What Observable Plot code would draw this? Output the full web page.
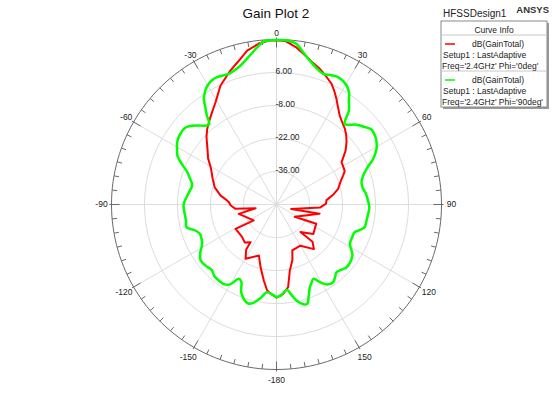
<!DOCTYPE html>
<html><head><meta charset="utf-8">
<script src="https://cdn.jsdelivr.net/npm/d3@7"></script>
<script src="https://cdn.jsdelivr.net/npm/@observablehq/plot@0.6"></script>
<style>body{margin:0;background:#fff}#chart{position:relative;width:554px;height:393px}</style>
</head><body><div id="chart"></div>
<script>
// ---- data ----
const angleLabels = [0, 30, 60, 90, 120, 150, -180, -150, -120, -90, -60, -30];
const ringValues = [6, -8, -22, -36];
const dbMin = -50, dbMax = 20;

const redTheta = [-180,-177,-173.8,-170.5,-165.7,-161,-150.3,-146,-145.4,-140,-133.6,-127,-120.7,-125,-104,-100,-96,-91,-87.2,-85,-81,-74.5,-68,-61,-56,-51,-46,-42.5,-39.4,-35,-30.8,-25.2,-19,-15,-10.8,-6,-2.5,0,3,7,10,14,17.7,21,24.5,27,29.6,32,35.4,39,42,45,48.3,52,55,57,61,64,66.5,70,75.7,80,85,89,94,107,102,124,115.8,128.6,139,136,140,150,161,164,168.6,172,175.7,180];
const redDb = [-10.5,-11.8,-13.3,-17.3,-22.6,-27.1,-23.5,-27,-30.6,-29,-29.9,-30,-29.8,-38.2,-33.5,-41,-32.5,-30.5,-29.8,-28.8,-26,-22.8,-20.8,-18.2,-15,-12.3,-8.7,-6.5,-4.8,-2.3,0.5,5.8,10.1,12.8,16.5,18.8,19.6,19.7,19.5,17.3,15,12.3,10.4,8.4,6.3,4,1.5,-0.9,-3.7,-5.5,-6.7,-8.2,-10.2,-12.8,-15.5,-17.1,-17.5,-17.8,-19.2,-21,-23,-25.5,-28.7,-29,-31.5,-43.5,-31.3,-40.7,-31.3,-30,-34.5,-28,-25.3,-29.8,-29.4,-25.5,-21.4,-14.6,-12,-10.5];

const greenTheta = [-180,-177,-174,-170,-167,-164,-161,-158,-155.5,-153,-150,-147,-143,-139,-135.5,-131,-126.5,-122,-119,-116.5,-111,-108,-104,-100,-95,-90,-85,-80,-77,-73,-70,-67,-64,-61,-58,-54,-50,-47,-44.5,-42,-40,-38,-36,-34.5,-32,-30,-27,-25,-22,-20,-17,-14.5,-11,-7,-4.5,0,4.6,7,10,13,16,19.7,23,26,30.5,33,35,37.5,40.2,42,45,48.5,51.5,55.8,58.1,61,64.7,68,71.5,75.3,79,83,88.6,92,95.8,100,104.4,107,109.5,114,118.2,121,123.9,128,131.8,135,138.4,141,143.9,147,150,153.7,156,158,160.5,162.8,165,168.2,170.5,172.9,175,177,180];
const greenDb = [-10.7,-11.8,-12.6,-9.5,-7.3,-6.3,-7.5,-10,-14,-14.6,-11,-9.6,-9.5,-9.8,-10.9,-10.3,-10,-11.9,-13.8,-14.7,-15.2,-14,-10.6,-11,-10.8,-10.6,-11.8,-13,-13.3,-11.5,-9.7,-6.5,-3.3,-1.8,-0.3,0.6,0.6,-1,-3,-5,-5.6,-2,1.5,4.4,7,8.4,9.5,9.6,9.2,9,9.8,10.9,13.5,17.2,19.3,19.8,19.6,18.7,15.5,12.7,10.5,8.9,9.6,10,8.6,6.5,3.5,0.5,-5.2,-4.5,-2.1,-0.3,1.3,0.8,0,-1.5,-4.6,-8.5,-11.2,-12.7,-12.8,-11.8,-11,-10.6,-10.9,-11.2,-11.4,-13,-14.8,-15,-14.7,-13,-11.2,-10.3,-10.1,-10.9,-11.6,-10.5,-9.2,-9.6,-11.5,-14.8,-13.5,-12.2,-9,-5.9,-6.2,-8.4,-11,-13.5,-12.8,-11.4,-10.7];

const titleText = "Gain Plot 2";
const designText = "HFSSDesign1";
const brandText = "ANSYS";
const legendTitle = "Curve Info";
const seriesNames = ["dB(GainTotal)", "dB(GainTotal)"];
const seriesSetup = ["Setup1 : LastAdaptive", "Setup1 : LastAdaptive"];
const seriesFreq = ["Freq='2.4GHz' Phi='0deg'", "Freq='2.4GHz' Phi='90deg'"];
const seriesColors = ["#ff0000", "#00ff00"];

// ---- helpers ----
const R = 165; // outer radius px
const rad = d => d * Math.PI / 180;
const rNorm = db => Math.max(0, (db - dbMin) / (dbMax - dbMin));
const pt = (t, rr) => ({x: rr * Math.sin(rad(t)), y: rr * Math.cos(rad(t))});

const redPts = redTheta.map((t, i) => pt(t, rNorm(redDb[i])));
const greenPts = greenTheta.map((t, i) => pt(t, rNorm(greenDb[i])));

const circleAngles = d3.range(0, 361, 2);
const ringPts = ringValues.flatMap(v => circleAngles.map(a => ({...pt(a, rNorm(v)), ring: v})));
const outerPts = circleAngles.map(a => pt(a, 1));
const spokes = d3.range(0, 360, 30);
const tickAngles = d3.range(0, 360, 5);
const ticks = tickAngles.map(a => {
  const major = a % 30 === 0;
  const r1 = major ? 157 / R : 160 / R, r2 = major ? 167 / R : 1;
  const p1 = pt(a, r1), p2 = pt(a, r2);
  return {x1: p1.x, y1: p1.y, x2: p2.x, y2: p2.y};
});
const labelPts = angleLabels.map(a => {
  const s = Math.abs(Math.sin(rad(a))), c = Math.cos(rad(a));
  const rp = 171 + 5 * (1 - c) / 2 + 1.5 * s;
  return {...pt(a, rp / R), text: String(a)};
});

const svg = Plot.plot({
  width: 554, height: 393, margin: 0,
  style: {fontFamily: "Liberation Sans, Arial, sans-serif", fontSize: "8.5px", background: "white", overflow: "visible"},
  x: {domain: [-1, 1], range: [276 - R, 276 + R], axis: null},
  y: {domain: [-1, 1], range: [204 + R, 204 - R], axis: null},
  marks: [
    Plot.line(ringPts, {x: "x", y: "y", z: "ring", stroke: "#dcdcdc", strokeWidth: 1}),
    Plot.link(spokes, {x1: d => 0, y1: d => 0, x2: d => Math.sin(rad(d)), y2: d => Math.cos(rad(d)), stroke: "#dcdcdc", strokeWidth: 1}),
    Plot.line(outerPts, {x: "x", y: "y", stroke: "#6a6a6a", strokeWidth: 1}),
    Plot.link(ticks, {x1: "x1", y1: "y1", x2: "x2", y2: "y2", stroke: "#6a6a6a", strokeWidth: 1}),
    Plot.text(labelPts, {x: "x", y: "y", text: "text", fill: "#222", fontSize: 8.5}),
    Plot.text(ringValues, {x: d => 0, y: d => rNorm(d), text: d => d.toFixed(2), textAnchor: "start", lineAnchor: "bottom", dx: -1, dy: 1.5, fill: "#222", fontSize: 8.5}),
    Plot.line(redPts, {x: "x", y: "y", stroke: seriesColors[0], strokeWidth: 2}),
    Plot.line(greenPts, {x: "x", y: "y", stroke: seriesColors[1], strokeWidth: 2.5, curve: "catmull-rom"})
  ]
});
document.getElementById("chart").appendChild(svg);

// ---- title & legend overlay ----
const g = d3.select(svg).append("g").attr("font-family", "Liberation Sans, Arial, sans-serif").attr("text-anchor", "start");
const txt = (x, y, s, size, anchor = "start") => g.append("text").attr("x", x).attr("y", y).attr("text-anchor", anchor).attr("font-size", size).attr("fill", "#222").text(s);
txt(276, 18, titleText, 13.5, "middle").attr("fill", "#111");
txt(443, 17, designText, 10);
txt(549, 13, brandText, 9.5, "end").attr("font-weight", "bold").attr("fill", "#333");

const lx = 441, ly = 21, lw = 106, lh = 86;
g.append("rect").attr("x", lx + 2).attr("y", ly + 2).attr("width", lw).attr("height", lh).attr("fill", "#9a9a9a");
g.append("rect").attr("x", lx).attr("y", ly).attr("width", lw).attr("height", lh).attr("fill", "#fff").attr("stroke", "#8a8a8a");
txt(lx + lw / 2, 33, legendTitle, 8.5, "middle");
[35, 71].forEach(y => g.append("line").attr("x1", lx).attr("x2", lx + lw).attr("y1", y).attr("y2", y).attr("stroke", "#c8c8c8"));
seriesNames.forEach((name, i) => {
  const y0 = 44 + i * 36;
  g.append("line").attr("x1", 445).attr("x2", 455).attr("y1", y0).attr("y2", y0).attr("stroke", seriesColors[i]).attr("stroke-width", 1.5);
  txt(472, y0 + 3, name, 8.5);
  txt(443, y0 + 14, seriesSetup[i], 8.5);
  txt(442, y0 + 24.5, seriesFreq[i], 8.5);
});
</script>
</body></html>
